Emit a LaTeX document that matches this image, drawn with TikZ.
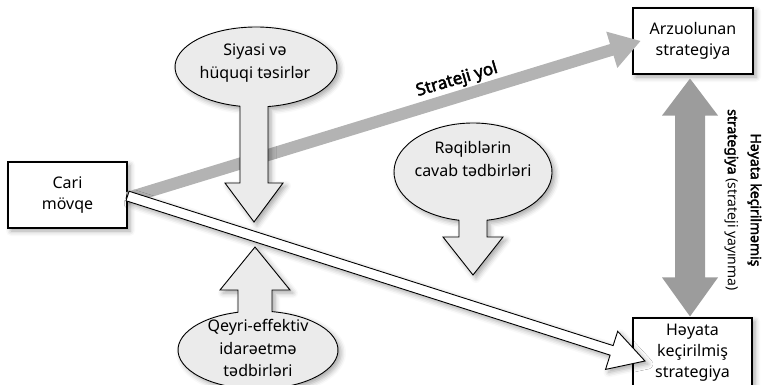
\documentclass[tikz,border=0pt]{standalone}
\usepackage{fontspec}
\setmainfont{Noto Sans}[AutoFakeBold=2.5]
\usetikzlibrary{calc,shadows.blur}

\definecolor{calloutgray}{HTML}{EBEBEB}
\definecolor{pathgray}{HTML}{B3B3B3}
\definecolor{gapgray}{HTML}{9C9C9C}

\tikzset{
  softshadow/.style={blur shadow={shadow xshift=3pt, shadow yshift=-3pt,
      shadow blur radius=5pt, shadow opacity=35}},
  boxnode/.style={draw=black, line width=1.1pt, fill=white, align=center,
      inner sep=0pt, font=\fontsize{16}{21}\selectfont, softshadow},
  callout/.style={draw=black, line width=0.9pt, fill=calloutgray,
      line join=miter, softshadow},
  calloutlabel/.style={align=center, inner sep=0pt,
      font=\fontsize{16}{22.5}\selectfont},
  patharrow/.style={fill=pathgray},
  whitearrow/.style={draw=black, line width=0.9pt, fill=white, line join=miter, softshadow},
  gaparrow/.style={fill=gapgray},
}

% block arrow from #2 to the tip #3: shaft half width #4,
% head length #5, head half width #6
\newcommand\blockarrow[6]{%
  \coordinate (ba-s) at (#2);
  \coordinate (ba-t) at (#3);
  \coordinate (ba-b) at ($(ba-t)!#5!(ba-s)$);
  \path[#1] ($(ba-s)!#4!90:(ba-t)$) -- ($(ba-b)!#4!90:(ba-t)$)
    -- ($(ba-b)!#6!90:(ba-t)$) -- (ba-t) -- ($(ba-b)!#6!-90:(ba-t)$)
    -- ($(ba-b)!#4!-90:(ba-t)$) -- ($(ba-s)!#4!-90:(ba-t)$) -- cycle;
}

\begin{document}
\begin{tikzpicture}[x=1pt, y=-1pt]
\useasboundingbox (0,0) rectangle (762,385);

% boxes
\node[boxnode, minimum width=119pt, minimum height=66pt] (cari) at (67.5,195) {Cari\\mövqe};
\node[boxnode, minimum width=120pt, minimum height=66pt] (arz) at (693,41) {Arzuolunan\\strategiya};
\node[boxnode, minimum width=119pt, minimum height=70pt] (hey) at (692.5,353) {Həyata\\keçirilmiş\\strategiya};

% strategic path
\blockarrow{patharrow}{$(cari.east)+(0,3)$}{$(arz.west)+(8,0)$}{6pt}{30pt}{19pt}

% two-way gap arrow
\coordinate (vt) at ($(arz.south)+(-3,4)$);
\coordinate (vb) at ($(hey.north)+(-2.5,-1)$);
\path[gaparrow] (vt) -- ++(28,37) -- ++(-13,0) -- ($(vb)+(15,-39)$) -- ++(13,0)
  -- (vb) -- ++(-28,-39) -- ++(13,0) -- ($(vt)+(-15,37)$) -- ++(-13,0) -- cycle;

% influence callouts
\path[callout] (256,67) ++(81.48:81 and 40)
  arc[start angle=81.48, end angle=-258.61, x radius=81, y radius=40]
  -- (240,183) -- (225,183) -- (254,222) -- (283,183) -- (268,183) -- cycle;
\path[callout] (473,172) ++(79.79:79 and 49)
  arc[start angle=79.79, end angle=-259.79, x radius=79, y radius=49]
  -- (459,237) -- (443,237) -- (473,275) -- (503,237) -- (487,237) -- cycle;
\path[callout] (258,350) ++(-104.48:80 and 39)
  arc[start angle=-104.48, end angle=-439.92, x radius=80, y radius=39]
  -- (272,290) -- (290,290) -- (255,247) -- (220,290) -- (238,290) -- cycle;

\node[calloutlabel] (siyasi) at (255,63) {Siyasi və\\hüquqi təsirlər};
\node[calloutlabel] (reqib) at (473,159) {Rəqiblərin\\cavab tədbirləri};
\node[calloutlabel] (qeyri) at (258,348) {Qeyri-effektiv\\idarəetmə\\tədbirləri};

% realised path
\blockarrow{whitearrow}{$(cari.east)+(0,1)$}{$(hey.west)+(12.5,8)$}{5pt}{35pt}{20pt}

% labels
\node[font=\bfseries\fontsize{17}{20}\selectfont, rotate=16.4, inner sep=0pt] (yol) at (457,80) {Strateji yol};
\node[rotate=-90, align=center, inner sep=0pt, font=\fontsize{14}{23}\selectfont] (gap) at (743,200)
  {\textbf{Həyata keçirilməmiş}\\\textbf{strategiya} (strateji yayınma)};
\end{tikzpicture}
\end{document}
